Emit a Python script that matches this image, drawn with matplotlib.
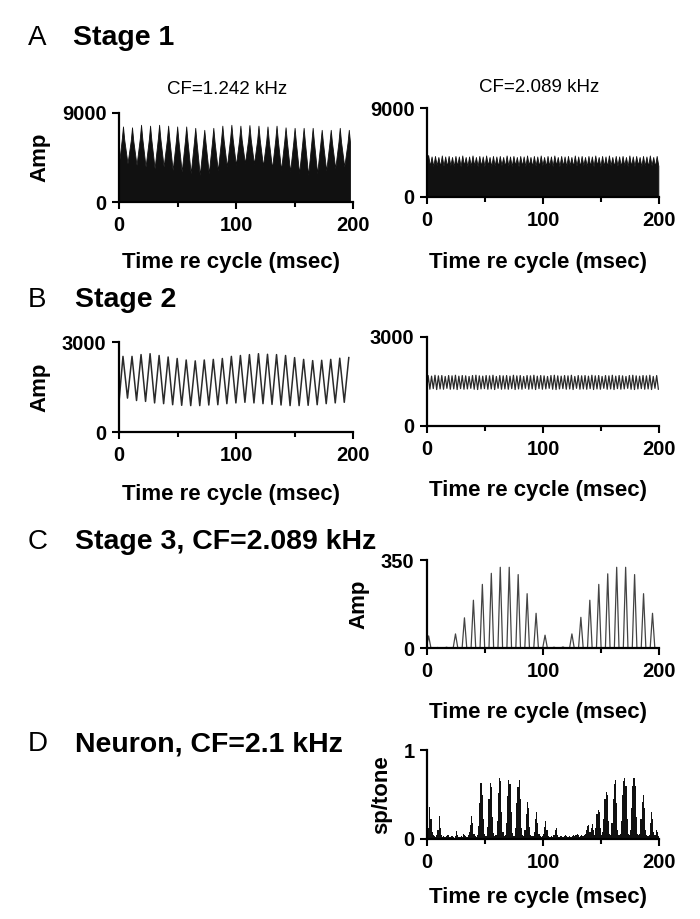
import numpy as np
import matplotlib.pyplot as plt

plt.rcParams['font.family'] = ['Liberation Sans', 'DejaVu Sans']
plt.rcParams['font.weight'] = 'bold'
plt.rcParams['axes.labelweight'] = 'bold'

# --- DATA ---
# Stage 1 / Stage 2, CF=1.242 kHz: one peak and one trough per 7.72 ms cycle
period_left = 7.72
offset_left = 3.4
s1_left_start = 3900
s1_left_peaks = [7640, 7550, 7810, 7720, 7810, 7720, 7640, 7640, 7500, 7300,
                 7500, 7720, 7810, 7720, 7780, 7720, 7640, 7720, 7550, 7500,
                 7500, 7500, 7300, 7300, 7500, 7300]
s1_left_shoulders = [6300, 6200, 6400, 6300, 6400, 6300, 6200, 6200, 6100, 6000,
                     6100, 6300, 6400, 6300, 6350, 6300, 6200, 6300, 6200, 6100,
                     6100, 6100, 6000, 6000, 6100, 6000]
s1_left_troughs = [3900, 3740, 3570, 3400, 3570, 3230, 3060, 2890, 2720, 2890,
                   3160, 3570, 3740, 3900, 3840, 3640, 3400, 3230, 3060, 2890,
                   2720, 2890, 3160, 3400, 3570, 3700]

s2_left_start = 1000
s2_left_peaks = [2520, 2520, 2580, 2610, 2550, 2500, 2450, 2400, 2370, 2400,
                 2420, 2450, 2520, 2550, 2580, 2610, 2590, 2580, 2550, 2480,
                 2420, 2380, 2390, 2420, 2460, 2480]
s2_left_troughs = [1130, 1050, 1020, 970, 945, 910, 890, 880, 880, 900,
                   910, 945, 970, 990, 970, 945, 920, 900, 880, 880,
                   890, 910, 945, 970, 990, 1000]

# Stage 1 / Stage 2, CF=2.089 kHz: one peak and one trough per 2.94 ms cycle
period_right = 2.94
offset_right = 1.0
s1_right_start = 3600
s1_right_peaks = [4250, 4100, 4150, 4050, 4200, 4100, 4150, 4050, 4150, 4100,
                  4200, 4050, 4100, 4200, 4050, 4150, 4100, 4200, 4050, 4150,
                  4100, 4150, 4050, 4200, 4100, 4150, 4050, 4150, 4100, 4200,
                  4050, 4150, 4100, 4200, 4050, 4150, 4100, 4200, 4050, 4150,
                  4100, 4150, 4050, 4200, 4100, 4150, 4050, 4150, 4100, 4200,
                  4050, 4150, 4100, 4200, 4050, 4150, 4100, 4150, 4050, 4200,
                  4100, 4150, 4050, 4150, 4100, 4200, 4050, 4150]
s1_right_troughs = [3150, 3100, 3200, 3100, 3150, 3100, 3200, 3100, 3150, 3100,
                    3200, 3100, 3150, 3200, 3100, 3150, 3100, 3200, 3100, 3150,
                    3100, 3200, 3100, 3150, 3100, 3200, 3100, 3150, 3100, 3200,
                    3100, 3150, 3100, 3200, 3100, 3150, 3100, 3200, 3100, 3150,
                    3100, 3200, 3100, 3150, 3100, 3200, 3100, 3150, 3100, 3200,
                    3100, 3150, 3100, 3200, 3100, 3150, 3100, 3200, 3100, 3150,
                    3100, 3200, 3100, 3150, 3100, 3200, 3100, 3150]

s2_right_start = 1300
s2_right_peaks = [1700, 1680, 1710, 1690, 1700, 1670, 1700, 1690, 1710, 1680,
                  1700, 1690, 1670, 1700, 1710, 1690, 1680, 1700, 1690, 1710,
                  1670, 1700, 1690, 1700, 1680, 1710, 1690, 1700, 1670, 1700,
                  1690, 1710, 1680, 1700, 1690, 1670, 1700, 1710, 1690, 1680,
                  1700, 1690, 1710, 1670, 1700, 1690, 1700, 1680, 1710, 1690,
                  1700, 1670, 1700, 1690, 1710, 1680, 1700, 1690, 1670, 1700,
                  1710, 1690, 1680, 1700, 1690, 1710, 1670, 1700]
s2_right_troughs = [1240, 1260, 1230, 1250, 1240, 1270, 1240, 1250, 1230, 1260,
                    1240, 1250, 1270, 1240, 1230, 1250, 1260, 1240, 1250, 1230,
                    1270, 1240, 1250, 1240, 1260, 1230, 1250, 1240, 1270, 1240,
                    1250, 1230, 1260, 1240, 1250, 1270, 1240, 1230, 1250, 1260,
                    1240, 1250, 1230, 1270, 1240, 1250, 1240, 1260, 1230, 1250,
                    1240, 1270, 1240, 1250, 1230, 1260, 1240, 1250, 1270, 1240,
                    1230, 1250, 1260, 1240, 1250, 1230, 1270, 1240]

# Stage 3, CF=2.089 kHz: peak height of each 7.72 ms cycle
period_s3 = 7.72
offset_s3 = 1.4
s3_peaks = [48, 2, 3, 56, 120, 190, 253, 297, 321, 321,
            292, 216, 138, 51, 3, 4, 56, 122, 190, 253,
            295, 321, 321, 292, 216, 138]

# Neuron PSTH, 1 ms bins (sp/tone)
psth_bin = 1.0
psth = [0.05, 0.12, 0.36, 0.22, 0.08, 0.04, 0.03, 0.02, 0.04, 0.10,
        0.26, 0.12, 0.04, 0.02, 0.03, 0.02, 0.03, 0.05, 0.04, 0.02,
        0.02, 0.03, 0.02, 0.01, 0.03, 0.09, 0.04, 0.02, 0.02, 0.03,
        0.02, 0.06, 0.05, 0.03, 0.02, 0.04, 0.08, 0.16, 0.26, 0.18,
        0.06, 0.03, 0.02, 0.04, 0.15, 0.40, 0.63, 0.50, 0.22, 0.06,
        0.03, 0.03, 0.14, 0.45, 0.63, 0.58, 0.25, 0.07, 0.03, 0.05,
        0.20, 0.52, 0.69, 0.65, 0.30, 0.08, 0.03, 0.04, 0.18, 0.48,
        0.66, 0.62, 0.30, 0.07, 0.03, 0.03, 0.12, 0.40, 0.58, 0.66,
        0.45, 0.12, 0.04, 0.03, 0.10, 0.28, 0.42, 0.35, 0.14, 0.04,
        0.03, 0.03, 0.08, 0.22, 0.30, 0.18, 0.06, 0.03, 0.02, 0.03,
        0.06, 0.14, 0.20, 0.10, 0.03, 0.02, 0.02, 0.03, 0.02, 0.05,
        0.10, 0.12, 0.05, 0.02, 0.02, 0.03, 0.02, 0.02, 0.03, 0.04,
        0.03, 0.02, 0.03, 0.02, 0.02, 0.03, 0.04, 0.03, 0.05, 0.06,
        0.04, 0.02, 0.03, 0.04, 0.03, 0.04, 0.06, 0.10, 0.15, 0.16,
        0.08, 0.12, 0.17, 0.10, 0.05, 0.12, 0.28, 0.33, 0.30, 0.12,
        0.05, 0.08, 0.22, 0.45, 0.53, 0.50, 0.20, 0.06, 0.05, 0.18,
        0.45, 0.62, 0.66, 0.40, 0.10, 0.04, 0.06, 0.20, 0.50, 0.65,
        0.69, 0.60, 0.22, 0.06, 0.04, 0.10, 0.35, 0.60, 0.69, 0.60,
        0.25, 0.06, 0.04, 0.06, 0.22, 0.42, 0.50, 0.35, 0.10, 0.04,
        0.03, 0.05, 0.18, 0.30, 0.22, 0.08, 0.04, 0.10, 0.08, 0.03]


def zigzag(start, peaks, troughs, period, offset, shoulders=None, sw=0.14):
    """Join the read peak/trough values into one line, peak then trough each cycle."""
    peaks = np.asarray(peaks, float)
    troughs = np.asarray(troughs, float)
    tp = offset + period * np.arange(len(peaks))
    if shoulders is None:
        t = np.column_stack([tp, tp + period / 2]).ravel()
        v = np.column_stack([peaks, troughs]).ravel()
    else:
        sh = np.asarray(shoulders, float)
        d = sw * period
        t = np.column_stack([tp - d, tp, tp + d, tp + period / 2]).ravel()
        v = np.column_stack([sh, peaks, sh, troughs]).ravel()
    keep = (t > 0) & (t <= 200)
    t = np.concatenate([[0.0], t[keep]])
    v = np.concatenate([[start], v[keep]])
    return t, v


def style(ax, ytop, ylabel=None, xlabel_pad=14):
    for s in ['top', 'right']:
        ax.spines[s].set_visible(False)
    for s in ['left', 'bottom']:
        ax.spines[s].set_linewidth(1.6)
    ax.set_xlim(0, 200)
    ax.set_ylim(0, ytop)
    ax.set_xticks([0, 100, 200])
    ax.set_xticks([50, 150], minor=True)
    ax.set_yticks([0, ytop])
    ax.tick_params(which='major', length=5, width=1.5, labelsize=14.5, pad=4)
    ax.tick_params(which='minor', length=3.3, width=1.5)
    ax.tick_params(axis='x', which='major', pad=5)
    ax.set_xlabel('Time re cycle (msec)', fontsize=16, labelpad=xlabel_pad)
    ax.xaxis.label.set_x(0.48)
    if ylabel:
        ax.set_ylabel(ylabel, fontsize=16, labelpad=8)


fig = plt.figure(figsize=(7, 9.19), dpi=100)

W, H = 700, 919


def add_axes(x0, x1, ytop, ybot):
    return fig.add_axes([x0 / W, 1 - ybot / H, (x1 - x0) / W, (ybot - ytop) / H])


# --- A: Stage 1 ---
axA1 = add_axes(119, 353, 113, 202)
t, v = zigzag(s1_left_start, s1_left_peaks, s1_left_troughs, period_left, offset_left,
              shoulders=s1_left_shoulders)
axA1.fill_between(t, v, 0, color='#111111', lw=0.6, edgecolor='#111111')
style(axA1, 9000, 'Amp', xlabel_pad=12)

axA2 = add_axes(427, 659, 108, 197)
t, v = zigzag(s1_right_start, s1_right_peaks, s1_right_troughs, period_right, offset_right)
axA2.fill_between(t, v, 0, color='#111111', lw=0.6, edgecolor='#111111')
style(axA2, 9000, xlabel_pad=16)

# --- B: Stage 2 ---
axB1 = add_axes(119, 353, 342, 432)
t, v = zigzag(s2_left_start, s2_left_peaks, s2_left_troughs, period_left, offset_left)
axB1.plot(t, v, color='#2a2a2a', lw=1.1)
style(axB1, 3000, 'Amp', xlabel_pad=14)

axB2 = add_axes(427, 659, 337, 426)
t, v = zigzag(s2_right_start, s2_right_peaks, s2_right_troughs, period_right, offset_right)
axB2.plot(t, v, color='#2a2a2a', lw=0.9)
style(axB2, 3000, xlabel_pad=15)

# --- C: Stage 3 ---
axC = add_axes(427, 659, 560, 648)
tp = offset_s3 + period_s3 * np.arange(len(s3_peaks))
hw = 2.0
tc = np.column_stack([tp - hw, tp, tp + hw]).ravel()
vc = np.column_stack([np.zeros(len(tp)), s3_peaks, np.zeros(len(tp))]).ravel()
axC.plot(tc, vc, color='#444444', lw=0.9)
style(axC, 350, 'Amp', xlabel_pad=15)

# --- D: Neuron ---
axD = add_axes(427, 659, 750, 839)
edges = psth_bin * np.arange(len(psth) + 1)
axD.stairs(psth, edges, fill=True, color='#111111')
style(axD, 1, 'sp/tone', xlabel_pad=11)

# --- panel titles ---
letter_kw = dict(fontsize=20, fontweight='normal', va='baseline')
title_kw = dict(fontsize=20.5, fontweight='bold', va='baseline')
fig.text(28 / W, 1 - 45 / H, 'A', **letter_kw)
fig.text(73 / W, 1 - 45 / H, 'Stage 1', **title_kw)
fig.text(28 / W, 1 - 307 / H, 'B', **letter_kw)
fig.text(75 / W, 1 - 307 / H, 'Stage 2', **title_kw)
fig.text(28 / W, 1 - 549 / H, 'C', **letter_kw)
fig.text(75 / W, 1 - 549 / H, 'Stage 3, CF=2.089 kHz', **title_kw)
fig.text(28 / W, 1 - 751 / H, 'D', **letter_kw)
fig.text(75 / W, 1 - 751 / H, 'Neuron, CF=2.1 kHz', **title_kw)

fig.text(227 / W, 1 - 89 / H, 'CF=1.242 kHz', fontsize=13.5, fontweight='normal',
         ha='center', va='center')
fig.text(539 / W, 1 - 88 / H, 'CF=2.089 kHz', fontsize=13.5, fontweight='normal',
         ha='center', va='center')

fig.savefig('out.png', dpi=100)
